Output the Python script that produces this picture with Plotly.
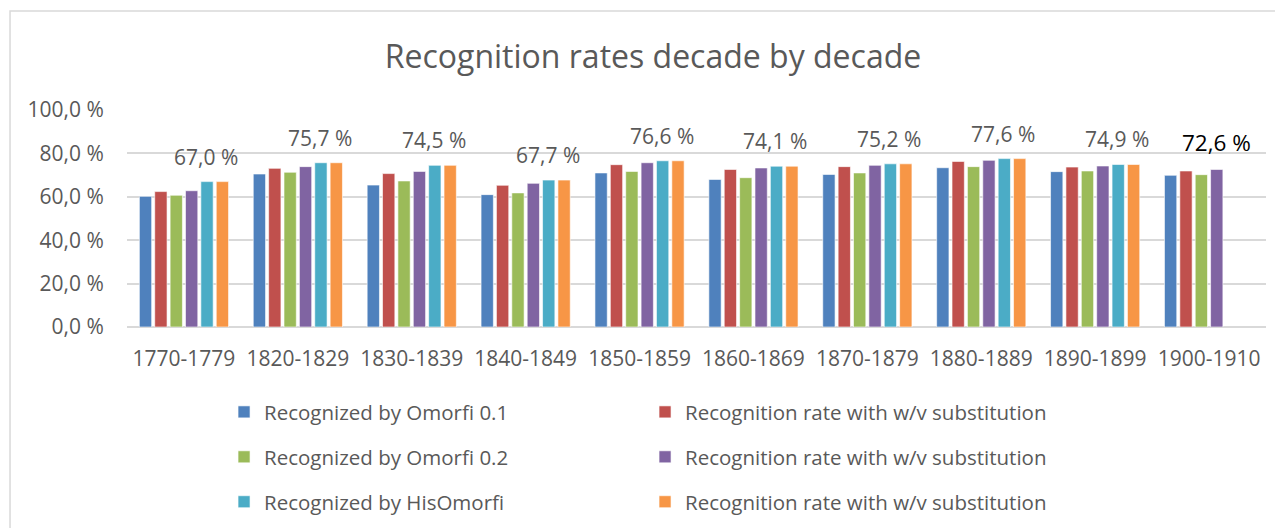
import plotly.graph_objects as go

# values (percent)
decades = ["1770-1779", "1820-1829", "1830-1839", "1840-1849", "1850-1859",
           "1860-1869", "1870-1879", "1880-1889", "1890-1899", "1900-1910"]

omorfi_01 = [60.2, 70.5, 65.4, 61.0, 71.0, 68.0, 70.3, 73.4, 71.6, 69.9]
omorfi_01_wv = [62.4, 73.1, 70.7, 65.3, 74.8, 72.6, 73.9, 76.3, 73.7, 71.9]
omorfi_02 = [60.7, 71.3, 67.3, 61.8, 71.7, 68.8, 71.0, 73.9, 71.9, 70.2]
omorfi_02_wv = [62.8, 73.9, 71.7, 66.2, 75.7, 73.3, 74.5, 76.8, 74.2, 72.6]
hisomorfi = [67.0, 75.7, 74.5, 67.7, 76.6, 74.1, 75.2, 77.6, 74.9, None]
hisomorfi_wv = [67.0, 75.7, 74.5, 67.7, 76.6, 74.1, 75.2, 77.6, 74.9, None]

series_names = ["Recognized by Omorfi 0.1", "Recognition rate with w/v substitution",
                "Recognized by Omorfi 0.2", "Recognition rate with w/v substitution",
                "Recognized by HisOmorfi", "Recognition rate with w/v substitution"]
series_vals = [omorfi_01, omorfi_01_wv, omorfi_02, omorfi_02_wv, hisomorfi, hisomorfi_wv]
colors = ["#4F81BD", "#C0504D", "#9BBB59", "#8064A2", "#4BACC6", "#F79646"]
legends = ["legend", "legend", "legend2", "legend2", "legend3", "legend3"]

INK = "#595959"
FONT = "'Open Sans', Lato, sans-serif"

fig = go.Figure()
for name, vals, col, lg in zip(series_names, series_vals, colors, legends):
    fig.add_trace(go.Bar(
        x=decades, y=vals, name=name, legend=lg,
        marker=dict(color=col, line=dict(color="rgba(255,255,255,0.6)", width=1)),
    ))

# value labels: HisOmorfi for the full decades, Omorfi 0.2 w/v for the last one
def fmt(v):
    return f"{v:.1f}".replace(".", ",") + " %"

for d, v in zip(decades, hisomorfi):
    if v is None:
        continue
    fig.add_annotation(x=d, y=v, text=fmt(v), showarrow=False,
                       xshift=22, yshift=25, font=dict(size=21, color=INK, family=FONT))
fig.add_annotation(x=decades[-1], y=omorfi_02_wv[-1], text=fmt(omorfi_02_wv[-1]),
                   showarrow=False, xshift=7, yshift=27,
                   font=dict(size=22.5, color="#000000", family=FONT))

# chart-area border
fig.add_shape(type="rect", xref="paper", yref="paper",
              x0=-0.1027, x1=1.03, y0=-0.95, y1=1.456,
              line=dict(color="#d9d9d9", width=1.5), layer="below")

leg = dict(orientation="h", xanchor="left", yanchor="middle", x=0.0852,
           entrywidth=376, entrywidthmode="pixels", bgcolor="rgba(0,0,0,0)",
           font=dict(size=20.5, color=INK, family=FONT), traceorder="normal")

# the page body adds an 8px offset, so margins are shifted to compensate
fig.update_layout(
    width=1283, height=528,
    margin=dict(l=119, r=25, t=102, b=209, autoexpand=False),
    paper_bgcolor="white", plot_bgcolor="white",
    font=dict(family=FONT, color=INK, size=21),
    separators=", ",
    title=dict(text="Recognition rates decade by decade", x=0.5027, xanchor="center",
               y=0.907, yanchor="middle", font=dict(size=32, color=INK, family=FONT)),
    barmode="group", bargap=0.19, bargroupgap=0.2,
    legend=dict(leg, y=-0.392),
    legend2=dict(leg, y=-0.599),
    legend3=dict(leg, y=-0.806),
)
fig.update_xaxes(type="category", showgrid=False, showline=False, zeroline=False,
                 ticks="outside", ticklen=13, tickcolor="rgba(0,0,0,0)",
                 tickfont=dict(size=21, color=INK))
fig.update_yaxes(range=[0, 100], dtick=20, tickformat=".1f", ticksuffix=" %",
                 showgrid=True, gridcolor="#d9d9d9", gridwidth=1.5,
                 zeroline=True, zerolinecolor="#d9d9d9", zerolinewidth=1.5,
                 showline=False, ticks="outside", ticklen=18, tickcolor="rgba(0,0,0,0)",
                 tickfont=dict(size=21, color=INK))

fig.write_html("out.html")
